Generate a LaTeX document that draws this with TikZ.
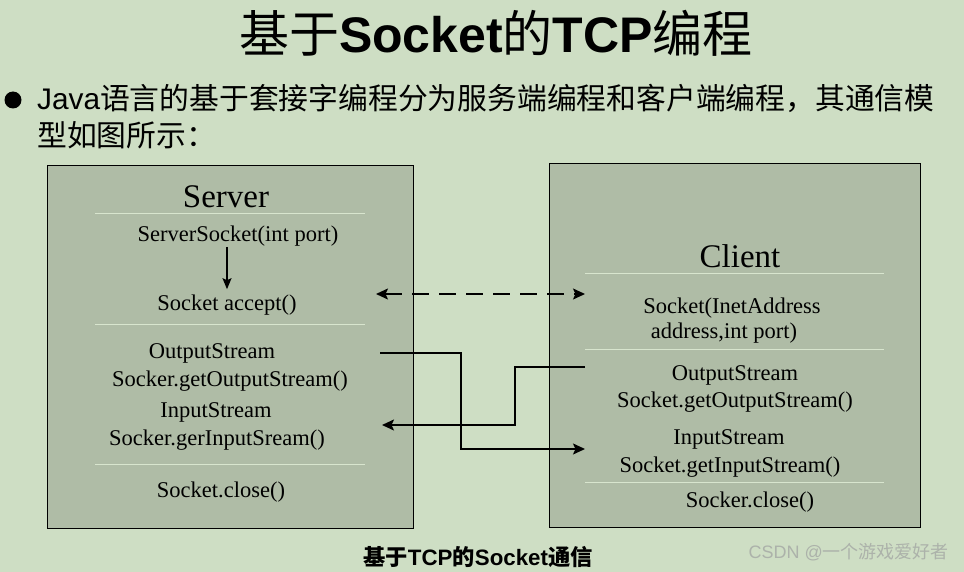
\documentclass[tikz,border=0pt]{standalone}
\usepackage{fontspec}
\usepackage{xcolor}
\usepackage{tikz}
\usetikzlibrary{arrows.meta,calc}

\setmainfont{Liberation Serif}
\setsansfont{Liberation Sans}
\newfontfamily\cjk{Noto Sans CJK SC}
\newcommand{\zh}[1]{{\cjk #1}}

\definecolor{bggreen}{RGB}{206,222,196}
\definecolor{boxgreen}{RGB}{175,188,166}
\definecolor{sepline}{RGB}{216,229,206}
\definecolor{wmgray}{RGB}{172,178,170}

\begin{document}
\begin{tikzpicture}[
  x=1pt, y=-1pt,
  box/.style={draw=black, line width=0.9pt, fill=boxgreen, inner sep=0pt},
  sep/.style={draw=sepline, line width=1pt},
  head/.style={font=\fontsize{33}{40}\selectfont, anchor=base, inner sep=0pt},
  code/.style={font=\fontsize{22.5}{27}\selectfont, anchor=base, inner sep=0pt},
  arrow/.style={-{Stealth[length=12pt, width=11pt, inset=2.5pt]}, line width=1.6pt},
  dasharrow/.style={{Stealth[length=12pt, width=11pt, inset=2.5pt]}-{Stealth[length=12pt, width=11pt, inset=2.5pt]}, line width=1.6pt, dash pattern=on 17pt off 10pt},
  smallarrow/.style={-{Stealth[length=11pt, width=9pt, inset=2pt]}, line width=1.2pt},
]

% --- Background ---
\fill[bggreen] (0,0) rectangle (964,572);

% --- Heading and intro ---
\node[font=\sffamily\bfseries\fontsize{50}{60}\selectfont, anchor=base, inner sep=0pt] (title) at (496,53) {\zh{\mdseries 基于}Socket\zh{\mdseries 的}TCP\zh{\mdseries 编程}};
\node[circle, fill=black, inner sep=0pt, minimum size=17pt] (dot) at (13,100) {};
\node[font=\sffamily\fontsize{29.8}{36}\selectfont, anchor=base west, inner sep=0pt] (intro) at (37,110) {Java\zh{语言的基于套接字编程分为服务端编程和客户端编程，其通信模}};
\node[font=\sffamily\fontsize{29.8}{36}\selectfont, anchor=base west, inner sep=0pt] (introb) at (37,147) {\zh{型如图所示：}};

% --- Left: Server ---
\node[box, minimum width=366pt, minimum height=363pt] (server) at (230,346.5) {};
\draw[sep] (95,214) -- (365,214);
\draw[sep] (95,324) -- (365,324);
\draw[sep] (95,464) -- (365,464);
\node[head] (srvname) at (226,208) {Server};
\node[code] (ssock) at (238,242) {ServerSocket(int port)};
\node[code] (accept) at (227,310) {Socket accept()};
\node[code] (sout) at (212,358) {OutputStream};
\node[code] (soutget) at (230,386) {Socker.getOutputStream()};
\node[code] (sin) at (216,417) {InputStream};
\node[code] (singet) at (217,445) {Socker.gerInputSream()};
\node[code] (sclose) at (221,497) {Socket.close()};
\draw[smallarrow, shorten >=5pt] (ssock.south -| accept) -- (accept.north);

% --- Right: Client ---
\node[box, minimum width=371pt, minimum height=364pt] (client) at (734.5,345) {};
\draw[sep] (585,273) -- (884,273);
\draw[sep] (585,349) -- (884,349);
\draw[sep] (585,482) -- (884,482);
\node[head] (cliname) at (740,267) {Client};
\node[code] (csock) at (732,313) {Socket(InetAddress};
\node[code] (csockb) at (724,338) {address,int port)};
\node[code] (cout) at (735,380) {OutputStream};
\node[code] (coutget) at (735,407) {Socket.getOutputStream()};
\node[code] (cin) at (729,444) {InputStream};
\node[code] (cinget) at (730,472) {Socket.getInputStream()};
\node[code] (cclose) at (750,507) {Socker.close()};

% --- Between arrows ---
\coordinate (dashL) at (376,294);
\coordinate (dashR) at (585,294);
\coordinate (outS) at (380,353);
\coordinate (inC) at (585,449);
\coordinate (outC) at (585,367);
\coordinate (inS) at (382,425);
\draw[dasharrow] (dashL) -- (dashR);
\draw[arrow] (outS) -- ++(81,0) |- (inC);
\draw[arrow] (outC) -- ++(-70,0) |- (inS);

% --- Caption ---
\node[font=\sffamily\bfseries\fontsize{22.3}{27}\selectfont, anchor=base, inner sep=0pt] (caption) at (478,565) {\zh{基于}TCP\zh{的}Socket\zh{通信}};
\node[font=\sffamily\fontsize{18}{22}\selectfont, text=wmgray, anchor=base east, inner sep=0pt] (mark) at (949,558) {CSDN @\zh{一个游戏爱好者}};

\end{tikzpicture}
\end{document}
